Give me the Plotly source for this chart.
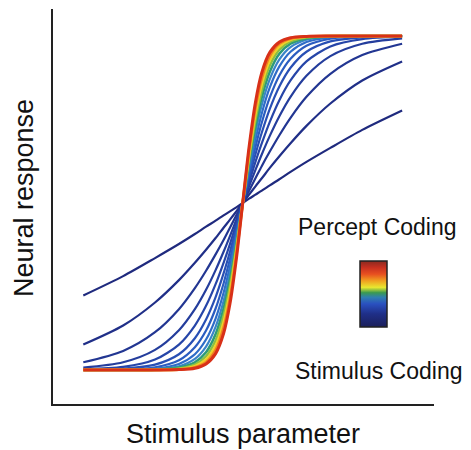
import plotly.graph_objects as go

# Stimulus parameter positions (normalised)
stim_x = [-1.0, -0.75, -0.55, -0.4, -0.3, -0.23, -0.17, -0.12, -0.08, -0.04, 0.0,
          0.04, 0.08, 0.12, 0.17, 0.23, 0.3, 0.4, 0.55, 0.75, 1.0]

# Neural response curves, from stimulus coding (shallow) to percept coding (steep)
resp_01 = [.223, .281, .335, .377, .407, .429, .447, .463, .475, .487, .5, .513, .525, .537, .553, .571, .593, .623, .665, .719, .777]
resp_02 = [.076, .133, .202, .269, .321, .360, .395, .426, .450, .475, .5, .525, .550, .574, .605, .640, .679, .731, .798, .867, .924]
resp_03 = [.023, .057, .113, .182, .245, .297, .346, .389, .426, .463, .5, .537, .574, .611, .654, .703, .755, .818, .887, .943, .977]
resp_04 = [.007, .023, .060, .119, .182, .240, .299, .354, .401, .450, .5, .550, .599, .646, .701, .760, .818, .881, .940, .977, .993]
resp_05 = [.002, .009, .031, .076, .133, .192, .257, .321, .377, .438, .5, .562, .623, .679, .743, .808, .867, .924, .969, .991, .998]
resp_06 = [.001, .004, .016, .047, .095, .151, .218, .289, .354, .426, .5, .574, .646, .711, .782, .849, .905, .953, .984, .996, .999]
resp_07 = [0, .001, .008, .029, .068, .118, .184, .259, .332, .413, .5, .587, .668, .741, .816, .882, .932, .971, .992, .999, 1]
resp_08 = [0, .001, .004, .018, .047, .091, .154, .231, .310, .401, .5, .599, .690, .769, .846, .909, .953, .982, .996, .999, 1]
resp_09 = [0, 0, .002, .011, .033, .070, .129, .206, .289, .389, .5, .611, .711, .794, .871, .930, .967, .989, .998, 1, 1]
resp_10 = [0, 0, .001, .007, .023, .053, .107, .182, .269, .377, .5, .623, .731, .818, .893, .947, .977, .993, .999, 1, 1]
resp_11 = [0, 0, 0, .004, .016, .041, .088, .161, .250, .366, .5, .634, .750, .839, .912, .959, .984, .996, 1, 1, 1]
resp_12 = [0, 0, 0, .002, .011, .031, .072, .142, .231, .354, .5, .646, .769, .858, .928, .969, .989, .998, 1, 1, 1]
resp_13 = [0, 0, 0, .001, .008, .023, .059, .125, .214, .343, .5, .657, .786, .875, .941, .977, .992, .999, 1, 1, 1]
resp_14 = [0, 0, 0, .001, .005, .018, .049, .109, .198, .332, .5, .668, .802, .891, .951, .982, .995, .999, 1, 1, 1]

curves = [resp_01, resp_02, resp_03, resp_04, resp_05, resp_06, resp_07,
          resp_08, resp_09, resp_10, resp_11, resp_12, resp_13, resp_14]

# styles
line_colors = ['#1f2a7e', '#202f88', '#223692', '#243d9c', '#2645a8', '#284fb4', '#2a5cc0',
               '#2e6cc8', '#3a84c8', '#2e9a78', '#8cc040', '#f0d028', '#f08020', '#d83018']
line_widths = [2.2] * 9 + [2.6, 2.6, 2.8, 2.8, 3.0]

bar_scale = [[0.0, '#1b1f5a'], [0.2, '#1f2f88'], [0.35, '#2a50c0'], [0.45, '#2f7fb0'],
             [0.52, '#3a9a50'], [0.6, '#e8e830'], [0.7, '#f0a020'], [0.8, '#e85020'],
             [0.9, '#c83020'], [1.0, '#8a2a20']]

fig = go.Figure()
for ys, col, w in zip(curves, line_colors, line_widths):
    fig.add_trace(go.Scatter(x=stim_x, y=ys, mode='lines',
                             line=dict(color=col, width=w, shape='spline', smoothing=0.8),
                             showlegend=False, hoverinfo='skip'))

fig.add_trace(go.Scatter(x=[None], y=[None], mode='markers', showlegend=False,
                         marker=dict(color=[0], cmin=0, cmax=1, colorscale=bar_scale,
                                     showscale=True,
                                     colorbar=dict(thickness=27, thicknessmode='pixels',
                                                   len=66, lenmode='pixels',
                                                   x=0.806, xanchor='left',
                                                   y=0.278, yanchor='middle',
                                                   xpad=0, ypad=0,
                                                   outlinewidth=1.5, outlinecolor='#222',
                                                   showticklabels=False, ticks=''))))

font_fam = 'Liberation Sans, Arial, sans-serif'
fig.update_layout(
    width=471, height=450,
    margin=dict(l=53, r=37, t=9, b=46),
    paper_bgcolor='white', plot_bgcolor='white',
    font=dict(family=font_fam, color='#111'),
    xaxis=dict(range=[-1.19, 1.2], showline=True, linecolor='#222', linewidth=2,
               showgrid=False, zeroline=False, showticklabels=False, ticks=''),
    yaxis=dict(range=[-0.102, 1.081], showline=True, linecolor='#222', linewidth=2,
               showgrid=False, zeroline=False, showticklabels=False, ticks=''),
    annotations=[
        dict(text='Stimulus parameter', x=0.499, y=-0.076, xref='paper', yref='paper',
             xanchor='center', yanchor='middle', showarrow=False, font=dict(size=27)),
        dict(text='Neural response', x=-0.0761, y=0.5215, xref='paper', yref='paper',
             xanchor='center', yanchor='middle', showarrow=False, textangle=-90,
             font=dict(size=27)),
        dict(text='Percept Coding', x=0.853, y=0.448, xref='paper', yref='paper',
             xanchor='center', yanchor='middle', showarrow=False, font=dict(size=23)),
        dict(text='Stimulus Coding', x=0.8556, y=0.0848, xref='paper', yref='paper',
             xanchor='center', yanchor='middle', showarrow=False, font=dict(size=23)),
    ],
)

fig.write_html('out.html')
